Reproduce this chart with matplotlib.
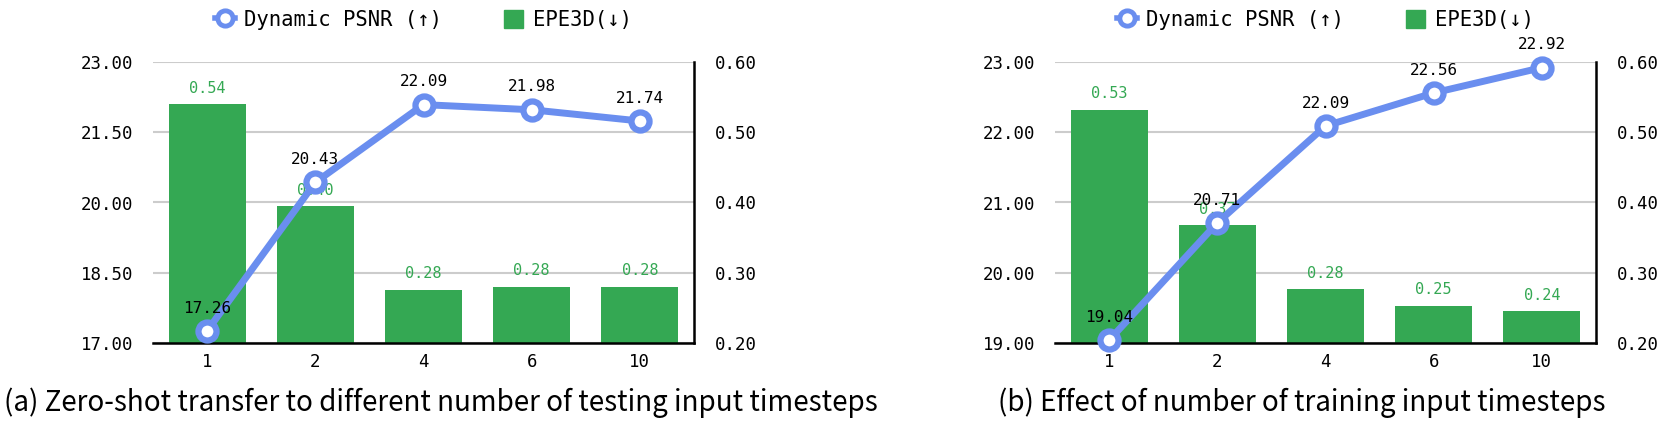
import matplotlib
matplotlib.use("Agg")
import matplotlib.pyplot as plt
from matplotlib.lines import Line2D
from matplotlib.patches import Patch

categories = ["1", "2", "4", "6", "10"]

psnr_a = [17.26, 20.43, 22.09, 21.98, 21.74]
epe_a = [0.54, 0.395, 0.276, 0.28, 0.28]
epe_a_labels = ["0.54", "0.40", "0.28", "0.28", "0.28"]

psnr_b = [19.04, 20.71, 22.09, 22.56, 22.92]
epe_b = [0.532, 0.368, 0.277, 0.253, 0.245]
epe_b_labels = ["0.53", "0.37", "0.28", "0.25", "0.24"]

left_ticks_a = [17.0, 18.5, 20.0, 21.5, 23.0]
left_ticks_b = [19.0, 20.0, 21.0, 22.0, 23.0]
right_ticks = [0.2, 0.3, 0.4, 0.5, 0.6]

caption_a = "(a) Zero-shot transfer to different number of testing input timesteps"
caption_b = "(b) Effect of number of training input timesteps"

BLUE = "#6a8eef"
GREEN = "#34a853"
MONO = ["DejaVu Sans Mono"]

W, H = 1661, 422
fig = plt.figure(figsize=(W / 100, H / 100), dpi=100)


def panel(x0, psnr, epe, epe_labels, lticks):
    ax_l = fig.add_axes([x0 / W, (H - 343) / H, 541 / W, 281 / H])
    ax_r = ax_l.twinx()
    xs = list(range(len(categories)))
    # bars on right axis
    ax_r.bar(xs, epe, width=0.71, color=GREEN, zorder=2)
    for x, v, t in zip(xs, epe, epe_labels):
        ax_r.annotate(t, (x, v), xytext=(0, 6), textcoords="offset points",
                      ha="center", va="bottom", color=GREEN, fontsize=11,
                      family=MONO)
    ax_r.set_ylim(0.2, 0.6)
    ax_r.set_yticks(right_ticks)
    ax_r.set_yticklabels([f"{t:.2f}" for t in right_ticks])
    ax_r.grid(axis="y", color="#cccccc", linewidth=1.5, zorder=0)
    ax_r.set_axisbelow(True)
    # line on left axis
    ax_l.plot(xs, psnr, color=BLUE, lw=5, marker="o", ms=13,
              markerfacecolor="white", markeredgecolor=BLUE, mew=4.5,
              zorder=5, clip_on=False)
    for x, v in zip(xs, psnr):
        ax_l.annotate(f"{v:.2f}", (x, v), xytext=(0, 11), textcoords="offset points",
                      ha="center", va="bottom", color="black", fontsize=11.5,
                      family=MONO, zorder=6)
    ax_l.set_ylim(lticks[0], lticks[-1])
    ax_l.set_yticks(lticks)
    ax_l.set_yticklabels([f"{t:.2f}" for t in lticks])
    ax_l.set_xlim(-0.5, len(categories) - 0.5)
    ax_l.set_xticks(xs)
    ax_l.set_xticklabels(categories)
    ax_l.set_zorder(ax_r.get_zorder() + 1)
    ax_l.patch.set_visible(False)
    for a in (ax_l, ax_r):
        for s in ("top", "left", "right", "bottom"):
            a.spines[s].set_visible(False)
    ax_r.spines["right"].set_visible(True)
    ax_r.spines["right"].set_linewidth(1.8)
    ax_l.spines["bottom"].set_visible(True)
    ax_l.spines["bottom"].set_linewidth(1.8)
    ax_l.tick_params(axis="y", length=0, pad=14)
    ax_r.tick_params(axis="y", length=0, pad=15)
    ax_l.tick_params(axis="x", length=0, pad=7)
    for lab in ax_l.get_yticklabels() + ax_r.get_yticklabels() + ax_l.get_xticklabels():
        lab.set_family(MONO)
        lab.set_fontsize(12.5)
    handles = [
        Line2D([], [], color=BLUE, lw=4, marker="o", ms=11, markerfacecolor="white",
               markeredgecolor=BLUE, mew=3.5),
        Patch(color=GREEN),
    ]
    ax_l.legend(handles, ["Dynamic PSNR (↑)", "EPE3D(↓)"], loc="center",
                bbox_to_anchor=(0.5, 1.15), ncol=2, frameon=False,
                prop={"family": MONO, "size": 14.8}, handlelength=0.95,
                handleheight=0.95, columnspacing=3.0, handletextpad=0.45)
    return ax_l, ax_r


panel(153, psnr_a, epe_a, epe_a_labels, left_ticks_a)
panel(1055, psnr_b, epe_b, epe_b_labels, left_ticks_b)

cap_font = ["Noto Sans CJK KR", "DejaVu Sans"]
fig.text(441 / W, (H - 403) / H, caption_a, ha="center", va="center",
         fontsize=20, family=cap_font)
fig.text(1302 / W, (H - 403) / H, caption_b, ha="center", va="center",
         fontsize=20, family=cap_font)

fig.savefig("out.png", dpi=100)
